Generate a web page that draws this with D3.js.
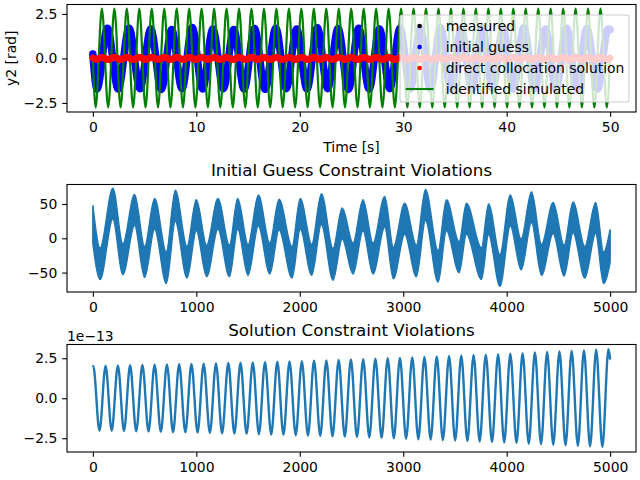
<!DOCTYPE html>
<html>
<head>
<meta charset="utf-8">
<script src="https://cdn.jsdelivr.net/npm/d3@7"></script>
<style>
  body { margin: 0; background: #fff; }
  text { font-family: "DejaVu Sans", sans-serif; fill: #000; }
</style>
</head>
<body>
<div id="chart-area"></div>
<script>
/*
*    three panel plot: states, initial guess violations, solution violations
*/

// ---------- top panel (time in s, y2 in rad) ----------
// identified simulated: turning points
let simT = [0,
  0.27, 0.87, 1.48, 2.08, 2.68, 3.28, 3.89, 4.49, 5.09, 5.69, 6.30, 6.90, 7.50, 8.10, 8.71, 9.31,
  9.91, 10.51, 11.12, 11.72, 12.32, 12.92, 13.53, 14.13, 14.73, 15.33, 15.94, 16.54, 17.14, 17.74,
  18.35, 18.95, 19.55, 20.15, 20.76, 21.36, 21.96, 22.56, 23.17, 23.77, 24.37, 24.97, 25.58, 26.18,
  26.78, 27.38, 27.99, 28.59, 29.19, 29.79, 30.40, 31.00, 31.60, 32.20, 32.81, 33.41, 34.01, 34.61,
  35.22, 35.82, 36.42, 37.02, 37.63, 38.23, 38.83, 39.43, 40.04, 40.64, 41.24, 41.84, 42.45, 43.05,
  43.65, 44.25, 44.86, 45.46, 46.06, 46.66, 47.27, 47.87, 48.47, 49.07, 49.68,
  50];
let simY = [0,
  -2.75, 2.8, -2.75, 2.8, -2.75, 2.8, -2.75, 2.8, -2.75, 2.8, -2.75, 2.8, -2.75, 2.8, -2.75, 2.8,
  -2.75, 2.8, -2.75, 2.8, -2.75, 2.8, -2.75, 2.8, -2.75, 2.8, -2.75, 2.8, -2.75, 2.8,
  -2.75, 2.8, -2.75, 2.8, -2.75, 2.8, -2.75, 2.8, -2.75, 2.8, -2.75, 2.8, -2.75, 2.8,
  -2.75, 2.8, -2.75, 2.8, -2.75, 2.8, -2.75, 2.8, -2.75, 2.8, -2.75, 2.8, -2.75, 2.8,
  -2.75, 2.8, -2.75, 2.8, -2.75, 2.8, -2.75, 2.8, -2.75, 2.8, -2.75, 2.8, -2.75, 2.8,
  -2.75, 2.8, -2.75, 2.8, -2.75, 2.8, -2.75, 2.8, -2.75, 2.8, -2.75,
  0.25];
// direct collocation solution (same turning times, tiny wiggle round 0)
let dcY = [0.02,
  -0.06, 0.07, -0.06, 0.07, -0.06, 0.07, -0.06, 0.07, -0.06, 0.07, -0.06, 0.07, -0.06, 0.07, -0.06, 0.07,
  -0.06, 0.07, -0.06, 0.07, -0.06, 0.07, -0.06, 0.07, -0.06, 0.07, -0.06, 0.07, -0.06, 0.07,
  -0.06, 0.07, -0.06, 0.07, -0.06, 0.07, -0.06, 0.07, -0.06, 0.07, -0.06, 0.07, -0.06, 0.07,
  -0.06, 0.07, -0.06, 0.07, -0.06, 0.07, -0.06, 0.07, -0.06, 0.07, -0.06, 0.07, -0.06, 0.07,
  -0.06, 0.07, -0.06, 0.07, -0.06, 0.07, -0.06, 0.07, -0.06, 0.07, -0.06, 0.07, -0.06, 0.07,
  -0.06, 0.07, -0.06, 0.07, -0.06, 0.07, -0.06, 0.07, -0.06, 0.07, -0.06,
  0.02];
// initial guess (measured sits right under it)
let guessT = [0, 0.40, 1.40, 2.45, 3.50, 4.55, 5.60, 6.61, 7.62, 8.61, 9.60, 10.60, 11.60, 12.61,
  13.62, 14.62, 15.62, 16.65, 17.68, 18.69, 19.70, 20.70, 21.70, 22.70, 23.70, 24.70, 25.70, 26.70,
  27.70, 28.70, 29.70, 30.68, 31.65, 32.63, 33.60, 34.60, 35.60, 36.63, 37.65, 38.65, 39.65, 40.65,
  41.65, 42.70, 43.75, 44.77, 45.78, 46.77, 47.75, 48.78, 49.80, 50];
let guessY = [0.25, -1.72, 1.70, -1.72, 1.70, -1.70, 1.65, -1.74, 1.62, -1.70, 1.74, -1.72, 1.65,
  -1.70, 1.62, -1.72, 1.68, -1.74, 1.70, -1.70, 1.66, -1.72, 1.72, -1.70, 1.68, -1.74, 1.70, -1.72,
  1.66, -1.70, 1.70, -1.72, 1.68, -1.70, 1.72, -1.72, 1.66, -1.74, 1.70, -1.70, 1.68, -1.72, 1.72,
  -1.70, 1.66, -1.72, 1.70, -1.70, 1.68, -1.72, 1.65, 1.62];

// ---------- middle panel: initial guess constraint violations (by sample) ----------
let igT  = [0, 70, 193, 290, 403, 500, 597, 710, 797, 910, 1000, 1100, 1209, 1320, 1400, 1500, 1600,
  1710, 1800, 1925, 2005, 2115, 2209, 2321, 2410, 2515, 2611, 2708, 2821, 2905, 3014, 3127, 3215,
  3337, 3418, 3540, 3611, 3756, 3825, 3935, 4035, 4140, 4240, 4337, 4449, 4555, 4642, 4755, 4860,
  4937, 5000];
let igHi = [48, -14, 73, -8, 64, -12, 58, -20, 70, -12, 56, -10, 58, -10, 58, -9, 63,
  -7, 57, -12, 58, -9, 65, -15, 44, -7, 56, -7, 61, -13, 51, -10, 71,
  -18, 56, -5, 51, -14, 50, -24, 63, -1, 68, -9, 52, -10, 53, -12, 52,
  -20, 13];
let igLo = [-8, -60, 28, -53, 19, -57, 13, -66, 25, -58, 11, -56, 13, -56, 13, -54, 18,
  -52, 12, -58, 13, -54, 20, -61, -1, -52, 11, -52, 16, -59, 6, -56, 26,
  -64, 11, -50, 6, -60, 5, -70, 18, -46, 23, -54, 7, -55, 8, -58, 7,
  -66, -35];

// ---------- bottom panel: solution constraint violations, units of 1e-13 ----------
let solT = [0, 4,
  64, 123, 182, 242, 301, 360, 419, 479, 538, 597, 657, 716, 775, 834, 894, 953, 1012, 1071,
  1131, 1190, 1249, 1309, 1368, 1427, 1486, 1546, 1605, 1664, 1724, 1783, 1842, 1901, 1961, 2020,
  2079, 2138, 2198, 2257, 2316, 2376, 2435, 2494, 2553, 2613, 2672, 2731, 2791, 2850, 2909, 2968,
  3028, 3087, 3146, 3205, 3265, 3324, 3383, 3443, 3502, 3561, 3620, 3680, 3739, 3798, 3858, 3917,
  3976, 4035, 4095, 4154, 4213, 4273, 4332, 4391, 4450, 4510, 4569, 4628, 4688, 4747, 4806, 4865,
  4925, 4984,
  5000];
let solY = [1.97, 2.02,
  -2.04, 2.03, -2.04, 2.05, -2.05, 2.06, -2.07, 2.08, -2.08, 2.09, -2.10, 2.11, -2.12, 2.13, -2.13, 2.14, -2.15, 2.16,
  -2.17, 2.18, -2.19, 2.20, -2.21, 2.22, -2.23, 2.24, -2.25, 2.26, -2.27, 2.28, -2.29, 2.30, -2.31, 2.32,
  -2.33, 2.35, -2.36, 2.37, -2.38, 2.39, -2.40, 2.42, -2.43, 2.44, -2.45, 2.47, -2.48, 2.50, -2.51, 2.52,
  -2.53, 2.55, -2.56, 2.58, -2.59, 2.61, -2.62, 2.64, -2.65, 2.67, -2.68, 2.70, -2.71, 2.73, -2.74, 2.76,
  -2.77, 2.79, -2.80, 2.82, -2.84, 2.86, -2.87, 2.89, -2.90, 2.92, -2.94, 2.96, -2.97, 2.99, -3.01, 3.03,
  -3.04, 3.06,
  2.42];

let legendLabels = ["measured", "initial guess", "direct collocation solution", "identified simulated"];
let legendColors = ["black", "blue", "red", "green"];

// ---------- layout ----------
let width = 640, height = 480;
let left = 67, right = 636;
let fs = 13.9;      // 10pt at 100 dpi
let tickLen = 4.86;

let svg = d3.select("#chart-area")
    .append("svg")
    .attr("width", width)
    .attr("height", height);

let defs = svg.append("defs");
let tick = d3.format(".1f");

function makePanel(id, top, bottom, xDom, yDom, xTicks, yTicks, xFmt, yFmt) {
    let x = d3.scaleLinear().domain(xDom).range([left, right]);
    let y = d3.scaleLinear().domain(yDom).range([bottom, top]);

    defs.append("clipPath").attr("id", id)
        .append("rect")
        .attr("x", left).attr("y", top)
        .attr("width", right - left).attr("height", bottom - top);

    let data = svg.append("g").attr("clip-path", "url(#" + id + ")");
    let frame = svg.append("g");

    frame.append("rect")
        .attr("x", left).attr("y", top)
        .attr("width", right - left).attr("height", bottom - top)
        .attr("fill", "none")
        .attr("stroke", "black")
        .attr("stroke-width", 1.1);

    let xAxis = frame.append("g")
        .attr("transform", "translate(0," + bottom + ")")
        .call(d3.axisBottom(x).tickValues(xTicks).tickFormat(xFmt)
            .tickSize(tickLen).tickPadding(4.86));
    let yAxis = frame.append("g")
        .attr("transform", "translate(" + left + ",0)")
        .call(d3.axisLeft(y).tickValues(yTicks).tickFormat(yFmt)
            .tickSize(tickLen).tickPadding(4.86));

    [xAxis, yAxis].forEach(function(a) {
        a.select(".domain").remove();
        a.selectAll("line").attr("stroke", "black").attr("stroke-width", 1.1);
        a.selectAll("text")
            .attr("font-size", fs + "px")
            .attr("font-family", "DejaVu Sans")
            .attr("fill", "black");
    });

    return { x: x, y: y, data: data, frame: frame };
}

// ---------- top ----------
let p1 = makePanel("clip1", 4.5, 112, [-2.5, 52.5], [-3.01, 3.03],
    [0, 10, 20, 30, 40, 50], [-2.5, 0, 2.5], d3.format("d"), tick);

let curve = d3.curveMonotoneX;
let line1 = d3.line()
    .x(function(d) { return p1.x(d[0]); })
    .y(function(d) { return p1.y(d[1]); })
    .curve(curve);

// measured
p1.data.append("path")
    .datum(d3.zip(guessT, guessY))
    .attr("fill", "none")
    .attr("stroke", "black")
    .attr("stroke-width", 4)
    .attr("d", line1);

// initial guess
p1.data.append("path")
    .datum(d3.zip(guessT, guessY))
    .attr("fill", "none")
    .attr("stroke", "blue")
    .attr("stroke-width", 7.5)
    .attr("stroke-linejoin", "round")
    .attr("stroke-linecap", "round")
    .attr("d", line1);

// identified simulated
p1.data.append("path")
    .datum(d3.zip(simT, simY))
    .attr("fill", "none")
    .attr("stroke", "green")
    .attr("stroke-width", 2.2)
    .attr("d", line1);

// direct collocation
p1.data.append("path")
    .datum(d3.zip(simT, dcY))
    .attr("fill", "none")
    .attr("stroke", "red")
    .attr("stroke-width", 7)
    .attr("stroke-linecap", "round")
    .attr("d", line1);

// labels
svg.append("text")
    .attr("x", (left + right) / 2)
    .attr("y", 152)
    .attr("font-size", fs + "px")
    .attr("text-anchor", "middle")
    .text("Time [s]");

svg.append("text")
    .attr("transform", "translate(16," + ((4.5 + 112) / 2) + ") rotate(-90)")
    .attr("font-size", fs + "px")
    .attr("text-anchor", "middle")
    .text("y2 [rad]");

// legend
let legend = svg.append("g");
legend.append("rect")
    .attr("x", 400).attr("y", 15)
    .attr("width", 229).attr("height", 87)
    .attr("rx", 2.8)
    .attr("fill", "white")
    .attr("fill-opacity", 0.8)
    .attr("stroke", "#cccccc")
    .attr("stroke-width", 1.1);

legendLabels.forEach(function(lab, i) {
    let cy = 26 + i * 21;
    if (i < 3) {
        legend.append("circle")
            .attr("cx", 419.6).attr("cy", cy)
            .attr("r", 2.3)
            .attr("fill", legendColors[i]);
    } else {
        legend.append("line")
            .attr("x1", 405.7).attr("x2", 433.5)
            .attr("y1", cy).attr("y2", cy)
            .attr("stroke", legendColors[i])
            .attr("stroke-width", 2.08);
    }
    legend.append("text")
        .attr("x", 445.7)
        .attr("y", cy)
        .attr("dy", "0.36em")
        .attr("font-size", fs + "px")
        .text(lab);
});

// ---------- middle ----------
let p2 = makePanel("clip2", 184.5, 292, [-250, 5250], [-78.3, 78.4],
    [0, 1000, 2000, 3000, 4000, 5000], [-50, 0, 50], d3.format("d"), d3.format("d"));

p2.data.append("path")
    .datum(d3.range(igT.length))
    .attr("fill", "#1f77b4")
    .attr("stroke", "#1f77b4")
    .attr("stroke-width", 1.5)
    .attr("d", d3.area()
        .x(function(i) { return p2.x(igT[i]); })
        .y0(function(i) { return p2.y(igLo[i]); })
        .y1(function(i) { return p2.y(igHi[i]); })
        .curve(curve));

svg.append("text")
    .attr("x", (left + right) / 2)
    .attr("y", 176.2)
    .attr("font-size", "16.7px")
    .attr("text-anchor", "middle")
    .text("Initial Guess Constraint Violations");

// ---------- bottom ----------
let p3 = makePanel("clip3", 344.5, 452, [-250, 5250], [-3.36, 3.36],
    [0, 1000, 2000, 3000, 4000, 5000], [-2.5, 0, 2.5], d3.format("d"), tick);

p3.data.append("path")
    .datum(d3.zip(solT, solY))
    .attr("fill", "none")
    .attr("stroke", "#1f77b4")
    .attr("stroke-width", 2.4)
    .attr("d", d3.line()
        .x(function(d) { return p3.x(d[0]); })
        .y(function(d) { return p3.y(d[1]); })
        .curve(curve));

svg.append("text")
    .attr("x", left)
    .attr("y", 341)
    .attr("font-size", fs + "px")
    .text("1e\u221213");

svg.append("text")
    .attr("x", (left + right) / 2)
    .attr("y", 336.2)
    .attr("font-size", "16.7px")
    .attr("text-anchor", "middle")
    .text("Solution Constraint Violations");
</script>
</body>
</html>
